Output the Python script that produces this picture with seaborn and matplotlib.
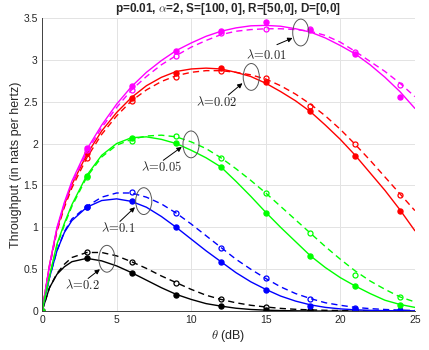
import numpy as np
import pandas as pd
import matplotlib
matplotlib.use("Agg")
import matplotlib.pyplot as plt
from matplotlib.patches import Ellipse
import seaborn as sb

# theta grid (dB) for the analytical / approximate curves
theta = [0, 0.5, 1, 1.5, 2, 3, 4, 5, 6, 7, 8, 9, 10, 11, 12, 13, 14, 15,
         16, 17, 18, 19, 20, 21, 22, 23, 24, 25]

# solid curves
sol_001 = [0, 0.55, 1.00, 1.30, 1.55, 1.93, 2.22, 2.47, 2.68, 2.85, 2.99, 3.11, 3.20, 3.28,
           3.34, 3.38, 3.405, 3.41, 3.40, 3.37, 3.33, 3.26, 3.17, 3.07, 2.94, 2.79, 2.62, 2.42]
sol_002 = [0, 0.55, 0.98, 1.27, 1.51, 1.87, 2.15, 2.37, 2.55, 2.69, 2.79, 2.86, 2.89, 2.90,
           2.89, 2.85, 2.80, 2.72, 2.62, 2.51, 2.38, 2.22, 2.05, 1.86, 1.65, 1.44, 1.21, 0.96]
sol_005 = [0, 0.42, 0.80, 1.05, 1.27, 1.62, 1.86, 2.00, 2.07, 2.08, 2.05, 2.00, 1.92, 1.83,
           1.72, 1.55, 1.37, 1.18, 1.00, 0.83, 0.66, 0.52, 0.40, 0.30, 0.21, 0.13, 0.08, 0.045]
sol_01 = [0, 0.40, 0.72, 0.94, 1.08, 1.24, 1.32, 1.34, 1.31, 1.24, 1.13, 1.00, 0.86, 0.72,
          0.59, 0.46, 0.35, 0.26, 0.18, 0.12, 0.075, 0.045, 0.027, 0.016, 0.01, 0.006, 0.004, 0.002]
sol_02 = [0, 0.28, 0.44, 0.53, 0.59, 0.63, 0.60, 0.54, 0.46, 0.37, 0.28, 0.20, 0.14, 0.09,
          0.06, 0.035, 0.02, 0.012, 0.007, 0.004, 0.002, 0.001, 0.001, 0, 0, 0, 0, 0]

# dashed curves
das_001 = [0, 0.53, 0.98, 1.28, 1.52, 1.90, 2.19, 2.43, 2.64, 2.80, 2.94, 3.05, 3.15, 3.23,
           3.30, 3.34, 3.36, 3.37, 3.37, 3.36, 3.34, 3.29, 3.21, 3.10, 2.98, 2.86, 2.72, 2.56]
das_002 = [0, 0.53, 0.95, 1.24, 1.47, 1.83, 2.11, 2.33, 2.51, 2.64, 2.74, 2.81, 2.85, 2.87,
           2.87, 2.85, 2.82, 2.77, 2.69, 2.59, 2.47, 2.33, 2.17, 1.99, 1.80, 1.60, 1.40, 1.20]
das_005 = [0, 0.41, 0.78, 1.03, 1.25, 1.60, 1.84, 1.98, 2.05, 2.09, 2.10, 2.08, 2.02, 1.94,
           1.83, 1.70, 1.56, 1.41, 1.25, 1.09, 0.93, 0.77, 0.62, 0.48, 0.36, 0.26, 0.17, 0.11]
das_01 = [0, 0.40, 0.72, 0.95, 1.10, 1.25, 1.36, 1.41, 1.41, 1.36, 1.28, 1.17, 1.04, 0.90,
          0.76, 0.62, 0.50, 0.39, 0.29, 0.21, 0.15, 0.10, 0.07, 0.045, 0.03, 0.02, 0.013, 0.008]
das_02 = [0, 0.28, 0.45, 0.56, 0.64, 0.70, 0.70, 0.66, 0.59, 0.51, 0.42, 0.34, 0.26, 0.19,
          0.14, 0.10, 0.07, 0.05, 0.033, 0.022, 0.015, 0.01, 0.007, 0.005, 0.003, 0.002, 0.001, 0.001]

# simulation points
theta_sim = [0, 3, 6, 9, 12, 15, 18, 21, 24]
fil_001 = [0, 1.95, 2.69, 3.11, 3.34, 3.45, 3.36, 3.07, 2.55]
fil_002 = [0, 1.89, 2.54, 2.84, 2.90, 2.73, 2.39, 1.85, 1.20]
fil_005 = [0, 1.615, 2.07, 2.005, 1.72, 1.175, 0.66, 0.30, 0.07]
fil_01 = [0, 1.24, 1.31, 1.00, 0.59, 0.25, 0.06, 0.02, 0.005]
fil_02 = [0, 0.63, 0.46, 0.19, 0.06, 0.01, 0.003, 0, 0]
opn_001 = [0, 1.92, 2.64, 3.05, 3.32, 3.37, 3.37, 3.09, 2.70]
opn_002 = [0, 1.83, 2.51, 2.80, 2.86, 2.78, 2.45, 2.00, 1.39]
opn_005 = [0, 1.60, 2.025, 2.09, 1.83, 1.415, 0.93, 0.43, 0.17]
opn_01 = [0, 1.24, 1.42, 1.17, 0.75, 0.39, 0.14, 0.04, 0.01]
opn_02 = [0, 0.70, 0.59, 0.34, 0.14, 0.05, 0.01, 0.005, 0.002]

etichete = ["0.2", "0.1", "0.02", "0.01", "0.05"]
culori = ["black", "#0000FF", "#FF0000", "#FF00FF", "#00FF00"]
solide = [sol_02, sol_01, sol_002, sol_001, sol_005]
punctate = [das_02, das_01, das_002, das_001, das_005]
pline = [fil_02, fil_01, fil_002, fil_001, fil_005]
pgoale = [opn_02, opn_01, opn_002, opn_001, opn_005]

# annotation places: label, arrow tail, arrow head, ellipse centre
ann = {
  "0.01": ((15.08, 3.06), (15.75, 3.18), (16.80, 3.26), (17.35, 3.325)),
  "0.02": ((11.72, 2.49), (12.50, 2.58), (13.44, 2.72), (14.03, 2.795)),
  "0.05": ((8.02, 1.72), (8.13, 1.80), (9.37, 1.96), (9.99, 1.99)),
  "0.1": ((5.14, 0.99), (5.22, 1.07), (6.23, 1.24), (6.82, 1.313)),
  "0.2": ((2.73, 0.31), (3.09, 0.39), (3.88, 0.50), (4.35, 0.625)),
}

sb.set_style("whitegrid")
plt.rcParams['font.family'] = ['Liberation Sans', 'DejaVu Sans']
plt.rcParams['mathtext.fontset'] = 'cm'

fig = plt.figure(figsize=(4.29, 3.5), dpi=100)
ax = fig.add_axes([0.098, 0.111, 0.869, 0.838])

for i in range(len(etichete)):
  c = culori[i]
  sb.lineplot(x=theta, y=solide[i], color=c, linewidth=1.0, ax=ax)
  sb.lineplot(x=theta, y=punctate[i], color=c, linewidth=1.0, linestyle=(0, (4.5, 3)), ax=ax)
  ax.plot(theta_sim, pline[i], linestyle='none', marker='o', markersize=3.6,
          color=c, markeredgecolor=c)
  ax.plot(theta_sim, pgoale[i], linestyle='none', marker='o', markersize=3.6,
          markerfacecolor='none', markeredgecolor=c, markeredgewidth=0.9)

for lam in ann:
  lab, tail, head, cen = ann[lam]
  ax.add_patch(Ellipse(cen, width=1.08, height=0.32, fill=False,
                       edgecolor='#555555', linewidth=0.7, zorder=5))
  ax.annotate("", xy=head, xytext=tail,
              arrowprops=dict(arrowstyle='-|>', color='black', lw=0.7,
                              mutation_scale=7, shrinkA=0, shrinkB=0))
  ax.text(lab[0], lab[1], r"$\lambda\!=\!" + lam + "$", ha='center', va='center',
          fontsize=9)

ax.set_xlim(0, 25)
ax.set_ylim(0, 3.5)
ax.set_xticks([0, 5, 10, 15, 20, 25])
ax.set_yticks([0, 0.5, 1, 1.5, 2, 2.5, 3, 3.5])
ax.set_yticklabels(["0", "0.5", "1", "1.5", "2", "2.5", "3", "3.5"])
ax.tick_params(labelsize=7.5, direction='in', length=3, color='#404040', pad=3)
ax.grid(True, color='#e3e3e3', linewidth=0.7)
for s in ['top', 'right']:
  ax.spines[s].set_visible(False)
for s in ['left', 'bottom']:
  ax.spines[s].set_color('#404040')
  ax.spines[s].set_linewidth(0.7)

ax.set_xlabel(r"$\theta$ (dB)", fontsize=9, labelpad=2)
ax.set_ylabel("Throughput (in nats per hertz)", fontsize=9, labelpad=1)
ax.set_title(r"p=0.01, $\alpha$=2, S=[100, 0], R=[50,0], D=[0,0]",
             fontsize=8.5, fontweight='bold', pad=4)

fig.savefig("out.png", dpi=100)
